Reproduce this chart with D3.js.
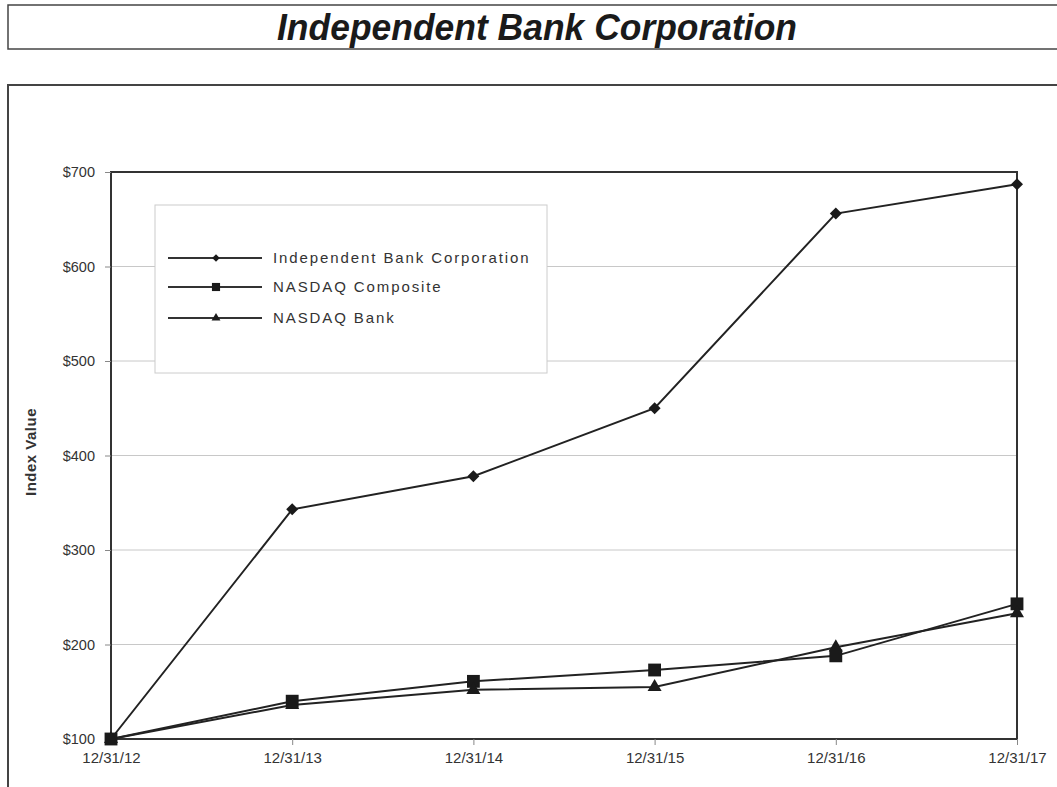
<!DOCTYPE html>
<html>
<head>
<meta charset="utf-8">
<script src="https://cdn.jsdelivr.net/npm/d3@7"></script>
<style>
  body { margin: 0; background: #fff; }
  text { font-family: "Liberation Sans", Arial, sans-serif; }
</style>
</head>
<body>
<div id="content"></div>
<script>
// Screen dimensions
var w = 1057;
var h = 787;

// Chart data
var dates = ["12/31/12", "12/31/13", "12/31/14", "12/31/15", "12/31/16", "12/31/17"];
var seriesNames = ["Independent Bank Corporation", "NASDAQ Composite", "NASDAQ Bank"];
var ibcValues = [100, 343, 378, 450, 656, 687];
var compositeValues = [100, 140, 161, 173, 188, 243];
var bankValues = [100, 136, 152, 155, 197, 233];
var yTicks = [100, 200, 300, 400, 500, 600, 700];

// diamond = square turned 45 degrees
var series = [
  { name: seriesNames[0], values: ibcValues, symbol: d3.symbolSquare, size: 72, rot: 45 },
  { name: seriesNames[1], values: compositeValues, symbol: d3.symbolSquare, size: 165, rot: 0 },
  { name: seriesNames[2], values: bankValues, symbol: d3.symbolTriangle, size: 85, rot: 0 }
];

// Plot area (named to avoid clashing with window.top)
var plotLeft = 111, plotRight = 1017, plotTop = 172, plotBottom = 739;

var svg = d3.select("#content")
  .append("svg")
  .attr("width", w)
  .attr("height", h)
  .style("display", "block");

// Title box
svg.append("rect")
  .attr("x", 8).attr("y", 5)
  .attr("width", 1060).attr("height", 44)
  .attr("fill", "#fff")
  .attr("stroke", "#444")
  .attr("stroke-width", 1.5);
svg.append("text")
  .attr("x", 277).attr("y", 40)
  .attr("font-size", 36)
  .attr("font-weight", "bold")
  .attr("font-style", "italic")
  .attr("fill", "#1a1a1a")
  .attr("textLength", 520)
  .attr("lengthAdjust", "spacingAndGlyphs")
  .text("Independent Bank Corporation");

// Outer frame
svg.append("rect")
  .attr("x", 8).attr("y", 85)
  .attr("width", 1060).attr("height", 720)
  .attr("fill", "none")
  .attr("stroke", "#444")
  .attr("stroke-width", 2);

// Scales
var x = d3.scalePoint().domain(dates).range([plotLeft, plotRight]);
var y = d3.scaleLinear().domain([100, 700]).range([plotBottom, plotTop]);

// Gridlines
svg.append("g")
  .selectAll("line")
  .data(yTicks.slice(1, -1))
  .enter()
  .append("line")
  .attr("x1", plotLeft).attr("x2", plotRight)
  .attr("y1", function(d) { return y(d); })
  .attr("y2", function(d) { return y(d); })
  .attr("stroke", "#c8c8c8")
  .attr("stroke-width", 1);

// Plot border
svg.append("rect")
  .attr("x", plotLeft).attr("y", plotTop)
  .attr("width", plotRight - plotLeft).attr("height", plotBottom - plotTop)
  .attr("fill", "none")
  .attr("stroke", "#333")
  .attr("stroke-width", 2);

// Y axis
var yAxis = svg.append("g")
  .attr("transform", "translate(" + plotLeft + ",0)")
  .call(d3.axisLeft(y).tickValues(yTicks).tickFormat(function(d) { return "$" + d; }).tickSize(6).tickPadding(10));
yAxis.select(".domain").remove();
yAxis.selectAll(".tick line").attr("stroke", "#888");
yAxis.selectAll("text")
  .attr("font-size", 14.5)
  .attr("fill", "#333")
  .style("font-family", "'Liberation Sans', Arial, sans-serif");

// X axis
var xAxis = svg.append("g")
  .attr("transform", "translate(0," + plotBottom + ")")
  .call(d3.axisBottom(x).tickSize(6).tickPadding(7));
xAxis.select(".domain").remove();
xAxis.selectAll(".tick line").attr("stroke", "#888");
xAxis.selectAll("text")
  .attr("font-size", 15)
  .attr("fill", "#333")
  .style("font-family", "'Liberation Sans', Arial, sans-serif");

// Y axis label
svg.append("text")
  .attr("transform", "translate(36,452) rotate(-90)")
  .attr("text-anchor", "middle")
  .attr("font-size", 15)
  .attr("font-weight", "bold")
  .attr("fill", "#333")
  .attr("letter-spacing", 0.5)
  .text("Index Value");

// Lines
var line = d3.line()
  .x(function(d, i) { return x(dates[i]); })
  .y(function(d) { return y(d); });

series.forEach(function(s) {
  svg.append("path")
    .datum(s.values)
    .attr("d", line)
    .attr("fill", "none")
    .attr("stroke", "#222")
    .attr("stroke-width", 2);
});

series.forEach(function(s) {
  svg.append("g")
    .selectAll("path")
    .data(s.values)
    .enter()
    .append("path")
    .attr("transform", function(d, i) {
      return "translate(" + x(dates[i]) + "," + y(d) + ") rotate(" + s.rot + ")";
    })
    .attr("d", d3.symbol().type(s.symbol).size(s.size))
    .attr("fill", "#1a1a1a");
});

// Legend
var legend = svg.append("g");
legend.append("rect")
  .attr("x", 155).attr("y", 205)
  .attr("width", 392).attr("height", 168)
  .attr("fill", "#fff")
  .attr("stroke", "#ccc")
  .attr("stroke-width", 1);

var rows = legend.selectAll(".row")
  .data(series)
  .enter()
  .append("g")
  .attr("transform", function(d, i) { return "translate(0," + [258, 287, 318][i] + ")"; });
rows.append("line")
  .attr("x1", 168).attr("x2", 262)
  .attr("y1", 0).attr("y2", 0)
  .attr("stroke", "#333")
  .attr("stroke-width", 2);
rows.append("path")
  .attr("transform", function(d) { return "translate(216,0) rotate(" + d.rot + ")"; })
  .attr("d", function(d) { return d3.symbol().type(d.symbol).size(d.size * 0.4)(); })
  .attr("fill", "#1a1a1a");
rows.append("text")
  .attr("x", 273).attr("y", 5)
  .attr("font-size", 15)
  .attr("fill", "#333")
  .attr("letter-spacing", 1.9)
  .text(function(d) { return d.name; });
</script>
</body>
</html>
